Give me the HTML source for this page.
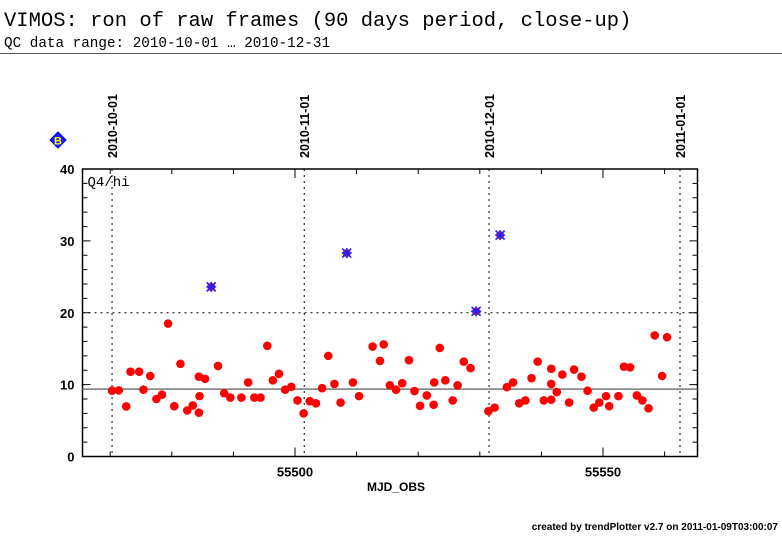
<!DOCTYPE html>
<html><head><meta charset="utf-8"><style>
body{margin:0;background:#fff;width:782px;height:542px;overflow:hidden}
svg{display:block}
</style></head><body>
<svg width="782" height="542" xmlns="http://www.w3.org/2000/svg">
<text x="4" y="26" font-family="Liberation Mono, monospace" font-size="20.5">VIMOS: ron of raw frames (90 days period, close-up)</text>
<text x="4" y="47" font-family="Liberation Mono, monospace" font-size="14.3">QC data range: 2010-10-01 … 2010-12-31</text>
<line x1="0" y1="53.5" x2="782" y2="53.5" stroke="#555" stroke-width="1"/>
<g id="plot"></g>
<g transform="translate(58,140)"><polygon points="0,-8 8,0 0,8 -8,0" fill="#1a1aff" stroke="#00f"/><text x="0" y="4.5" text-anchor="middle" font-family="Liberation Sans, sans-serif" font-weight="bold" font-size="11" fill="#ff0">B</text></g>
<text x="396" y="491" text-anchor="middle" font-family="Liberation Sans, sans-serif" font-weight="bold" font-size="12">MJD_OBS</text>
<text x="778" y="530" text-anchor="end" font-family="Liberation Sans, sans-serif" font-weight="bold" font-size="10">created by trendPlotter v2.7 on 2011-01-09T03:00:07</text>
</svg>
<script>
const mjd=[55470.3,55471.4,55472.6,55473.3,55474.7,55475.4,55476.5,55477.5,55478.4,55479.4,55480.4,55481.4,55482.5,55483.4,55484.4,55484.5,55484.4,55485.4,55487.5,55488.5,55489.5,55491.3,55492.4,55493.4,55494.4,55495.5,55496.4,55497.4,55498.4,55499.4,55500.4,55501.4,55502.4,55503.4,55504.4,55505.4,55506.4,55507.4,55509.4,55510.4,55512.6,55513.8,55514.4,55515.4,55516.4,55517.4,55518.5,55519.4,55520.3,55521.4,55522.5,55522.6,55523.5,55524.4,55525.6,55526.4,55527.4,55528.5,55531.4,55532.4,55534.4,55535.4,55536.4,55537.4,55538.4,55539.4,55540.4,55541.6,55541.6,55541.6,55542.5,55543.4,55544.5,55545.3,55546.5,55547.5,55548.5,55549.4,55550.5,55551.0,55552.5,55553.4,55554.4,55555.5,55556.4,55557.4,55558.4,55559.6,55560.4];
const ron=[9.15,9.2,6.96,11.8,11.8,9.3,11.2,8.0,8.6,18.5,7.0,12.9,6.4,7.1,11.1,8.4,6.1,10.8,12.6,8.8,8.2,8.2,10.3,8.2,8.2,15.4,10.6,11.5,9.3,9.7,7.8,6.0,7.7,7.4,9.5,14.0,10.1,7.5,10.3,8.4,15.3,13.3,15.6,9.9,9.3,10.2,13.4,9.1,7.05,8.5,7.2,10.3,15.1,10.6,7.8,9.9,13.2,12.3,6.3,6.8,9.65,10.3,7.4,7.8,10.9,13.2,7.8,12.2,10.1,7.9,8.96,11.4,7.5,12.1,11.1,9.15,6.8,7.5,8.4,7.0,8.4,12.5,12.4,8.5,7.8,6.7,16.85,11.2,16.6];
const flagMjd=[55486.4,55508.4,55529.4,55533.3];
const flagRon=[23.6,28.3,20.2,30.8];
const dateLabels=["2010-10-01","2010-11-01","2010-12-01","2011-01-01"];
const dateMjd=[55470.3,55501.5,55531.5,55562.5];
const xTickLabels=[55500,55550];
const yTickLabels=[0,10,20,30,40];
const meanVal=9.37, limitVal=20;

const L=82.5,R=697.5,T=169,B=456.5;
const X=m=>295+(m-55500)*6.16;
const Y=v=>B-(v/40)*(B-T);
const NS="http://www.w3.org/2000/svg";
const g=document.getElementById('plot');
function mk(tag,a,parent){const e=document.createElementNS(NS,tag);for(const k in a)e.setAttribute(k,a[k]);(parent||g).appendChild(e);return e;}

let e=mk('rect',{x:L,y:T,width:R-L,height:B-T,fill:'none',stroke:'#000','stroke-width':1.5});


for(let v=0;v<=40;v+=2){const maj=v%10===0;const y=Y(v);
 e=mk('line',{x1:L,y1:y,x2:L+(maj?8:5),y2:y,stroke:'#000'});
 
 
 e=mk('line',{x1:R,y1:y,x2:R-(maj?8:5),y2:y,stroke:'#000'});
 
 }
yTickLabels.forEach(v=>{e=mk('text',{x:L-8,y:Y(v)+5,'text-anchor':'end','font-family':'Liberation Sans, sans-serif','font-weight':'bold','font-size':13});e.textContent=v;
 
 });
for(let m=55470;m<=55560;m+=10){const maj=m%50===0;const x=X(m);
 e=mk('line',{x1:x,y1:B,x2:x,y2:B-(maj?9:5),stroke:'#000'});
 
 
 e=mk('line',{x1:x,y1:T,x2:x,y2:T+(maj?9:5),stroke:'#000'});
 
 }
xTickLabels.forEach(m=>{e=mk('text',{x:X(m),y:B+20,'text-anchor':'middle','font-family':'Liberation Sans, sans-serif','font-weight':'bold','font-size':13});e.textContent=m;
 
 });
dateMjd.forEach((m,i)=>{const x=X(m);
 e=mk('line',{x1:x,y1:T,x2:x,y2:B,stroke:'#000','stroke-dasharray':'2,4'});
 
 
 e=mk('text',{transform:`translate(${x+5},158) rotate(-90)`,'font-family':'Liberation Sans, sans-serif','font-weight':'bold','font-size':12.5});e.textContent=dateLabels[i];
 
 });
e=mk('line',{x1:L,y1:Y(limitVal),x2:R,y2:Y(limitVal),stroke:'#000','stroke-dasharray':'2,4'});


e=mk('line',{x1:L,y1:Y(meanVal),x2:R,y2:Y(meanVal),stroke:'#777','stroke-width':1.5});


e=mk('text',{x:L+5,y:T+17,'font-family':'Liberation Mono, monospace','font-size':14});e.textContent='Q4/hi';


mjd.forEach((m,i)=>{e=mk('circle',{cx:X(m),cy:Y(ron[i]),r:4.3,fill:'#f00'});
 
 });
flagMjd.forEach((m,i)=>{const x=X(m),y=Y(flagRon[i]);
 e=mk('circle',{cx:x,cy:y,r:4,fill:'#f00'});
 
 
 e=mk('path',{d:`M${x-4.5},${y-4.5}L${x+4.5},${y+4.5}M${x-4.5},${y+4.5}L${x+4.5},${y-4.5}M${x-5},${y}L${x+5},${y}M${x},${y-5}L${x},${y+5}`,stroke:'#22f','stroke-width':1.6});
 
 });
</script>
</body></html>
